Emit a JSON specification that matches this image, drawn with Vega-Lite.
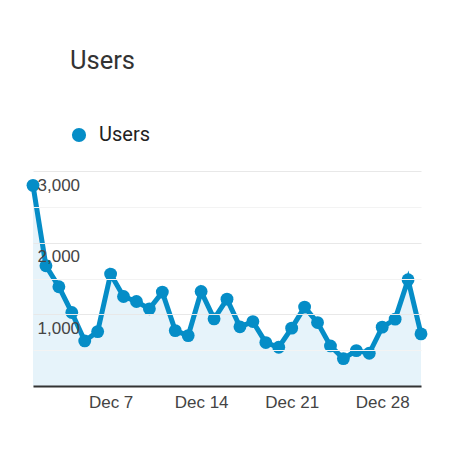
{
  "$schema": "https://vega.github.io/schema/vega-lite/v6.json",
  "width": 388,
  "height": 215,
  "autosize": {"type": "none"},
  "padding": {"left": 33, "top": 171, "right": 40, "bottom": 88},
  "background": "white",
  "title": {
    "text": "Users",
    "anchor": "start",
    "frame": "group",
    "dx": 37,
    "fontSize": 25.5,
    "font": "Roboto",
    "fontWeight": "normal",
    "color": "#333333",
    "offset": 51
  },
  "data": {
    "values": [
      {"date": "2019-12-01T00:00:00", "users": 2800},
      {"date": "2019-12-02T00:00:00", "users": 1678},
      {"date": "2019-12-03T00:00:00", "users": 1385},
      {"date": "2019-12-04T00:00:00", "users": 1025},
      {"date": "2019-12-05T00:00:00", "users": 629},
      {"date": "2019-12-06T00:00:00", "users": 759},
      {"date": "2019-12-07T00:00:00", "users": 1562},
      {"date": "2019-12-08T00:00:00", "users": 1249},
      {"date": "2019-12-09T00:00:00", "users": 1179},
      {"date": "2019-12-10T00:00:00", "users": 1077},
      {"date": "2019-12-11T00:00:00", "users": 1310},
      {"date": "2019-12-12T00:00:00", "users": 773},
      {"date": "2019-12-13T00:00:00", "users": 703},
      {"date": "2019-12-14T00:00:00", "users": 1319},
      {"date": "2019-12-15T00:00:00", "users": 937},
      {"date": "2019-12-16T00:00:00", "users": 1212},
      {"date": "2019-12-17T00:00:00", "users": 826},
      {"date": "2019-12-18T00:00:00", "users": 899},
      {"date": "2019-12-19T00:00:00", "users": 606},
      {"date": "2019-12-20T00:00:00", "users": 541},
      {"date": "2019-12-21T00:00:00", "users": 807},
      {"date": "2019-12-22T00:00:00", "users": 1101},
      {"date": "2019-12-23T00:00:00", "users": 885},
      {"date": "2019-12-24T00:00:00", "users": 559},
      {"date": "2019-12-25T00:00:00", "users": 382},
      {"date": "2019-12-26T00:00:00", "users": 494},
      {"date": "2019-12-27T00:00:00", "users": 457},
      {"date": "2019-12-28T00:00:00", "users": 821},
      {"date": "2019-12-29T00:00:00", "users": 933},
      {"date": "2019-12-30T00:00:00", "users": 1483},
      {"date": "2019-12-31T00:00:00", "users": 727}
    ]
  },
  "encoding": {
    "x": {
      "field": "date",
      "type": "temporal",
      "scale": {"domain": [{"year": 2019, "month": 12, "date": 1}, {"year": 2019, "month": 12, "date": 31}]},
      "axis": {
        "title": null,
        "values": [{"year": 2019, "month": 12, "date": 7}, {"year": 2019, "month": 12, "date": 14}, {"year": 2019, "month": 12, "date": 21}, {"year": 2019, "month": 12, "date": 28}],
        "format": "%b %-d",
        "grid": false,
        "ticks": false,
        "domainColor": "#333333",
        "domainWidth": 2,
        "labelFont": "Liberation Sans",
        "labelFontSize": 17,
        "labelColor": "#444444",
        "labelPadding": 8,
        "zindex": 1
      }
    },
    "y": {
      "field": "users",
      "type": "quantitative",
      "scale": {"domain": [0, 3000], "nice": false},
      "axis": {
        "title": null,
        "values": [0, 500, 1000, 1500, 2000, 2500, 3000],
        "labelExpr": "datum.value > 0 && datum.value % 1000 == 0 ? datum.label : ''",
        "domain": false,
        "ticks": false,
        "tickSize": 0,
        "gridColor": {"condition": {"test": "datum.value % 1000 == 0", "value": "#e8e8e8"}, "value": "#f3f3f3"},
        "labelAlign": "left",
        "labelBaseline": "middle",
        "labelPadding": -4,
        "labelOffset": 14,
        "labelFont": "Liberation Sans",
        "labelFontSize": 17,
        "labelColor": "#444444",
        "zindex": 1
      }
    }
  },
  "layer": [
    {
      "mark": {"type": "area", "color": "#e6f3fa"}
    },
    {
      "mark": {"type": "line", "color": "#058dc7", "strokeWidth": 5}
    },
    {
      "mark": {"type": "point", "filled": true, "opacity": 1, "size": 165, "shape": "circle"},
      "encoding": {
        "color": {
          "datum": "Users",
          "scale": {"range": ["#058dc7"]},
          "legend": {
            "title": null,
            "orient": "none",
            "legendX": 36,
            "legendY": -46,
            "symbolType": "circle",
            "symbolSize": 201,
            "symbolOpacity": 1,
            "symbolStrokeWidth": 0,
            "labelFont": "Roboto",
            "labelFontSize": 20,
            "labelColor": "#222222",
            "labelOffset": 10
          }
        }
      }
    }
  ],
  "config": {"view": {"stroke": null}}
}
